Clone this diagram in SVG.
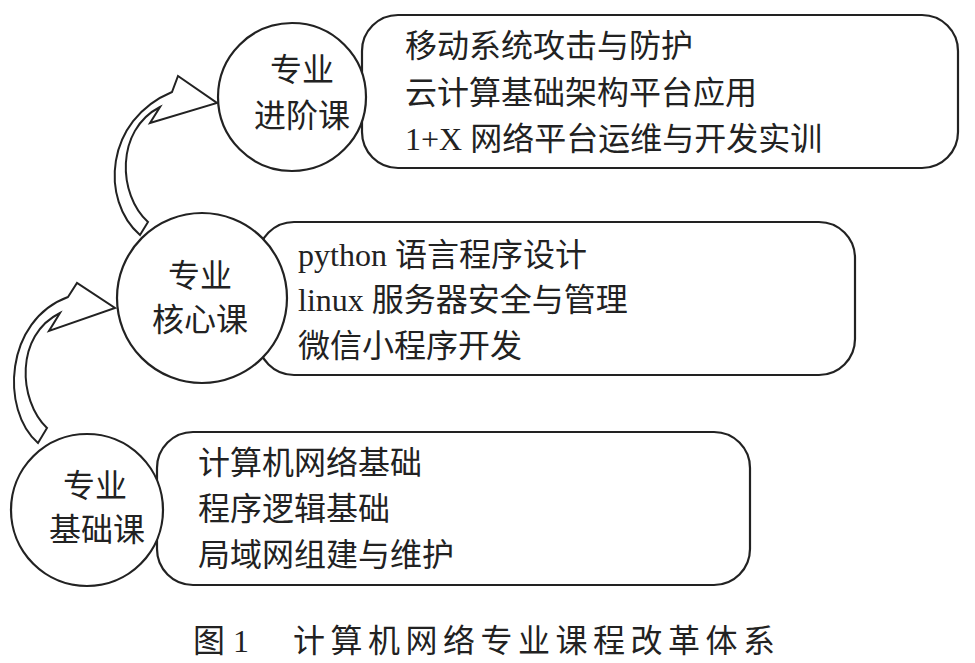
<svg xmlns="http://www.w3.org/2000/svg" width="975" height="663" viewBox="0 0 975 663">
<style>
.s{fill:#fff;stroke:#222;stroke-width:2.2}
.a{fill:#fff;stroke:#222;stroke-width:2;stroke-linejoin:miter}
text{font-family:"Liberation Serif","Noto Sans CJK SC",serif;font-size:32px;fill:#222}
.c{text-anchor:middle}
</style>
<rect width="975" height="663" fill="#fff"/>
<g id="connectors">
<path class="a" d="M140,235 C100,200 105,120 172,92 L178,76 L217,103 L150,123 L160,107 C115,130 118,195 148,222 Z"/>
<path class="a" d="M38,443 C0,410 5,320 68,297 L77,283 L115,308 L49,331 L60,313 C15,335 18,400 47,428 Z"/>
</g>
<g id="box-adv"><rect class="s" x="362" y="15" width="596" height="153" rx="36"/>
<text x="405" y="57">移动系统攻击与防护</text><text x="405" y="104">云计算基础架构平台应用</text><text x="405" y="150">1+X 网络平台运维与开发实训</text></g>
<g id="box-core"><rect class="s" x="258" y="222" width="597" height="153" rx="36"/>
<text x="298" y="266">python 语言程序设计</text><text x="298" y="311">linux 服务器安全与管理</text><text x="298" y="357">微信小程序开发</text></g>
<g id="box-base"><rect class="s" x="157" y="432" width="593" height="153" rx="36"/>
<text x="198" y="474">计算机网络基础</text><text x="198" y="520">程序逻辑基础</text><text x="198" y="566">局域网组建与维护</text></g>
<g id="node-adv"><circle class="s" cx="292" cy="97" r="74"/><text class="c" x="302" y="81">专业</text><text class="c" x="302" y="127">进阶课</text></g>
<g id="node-core"><circle class="s" cx="202" cy="298" r="85"/><text class="c" x="200" y="287">专业</text><text class="c" x="200" y="331">核心课</text></g>
<g id="node-base"><circle class="s" cx="87" cy="510" r="76"/><text class="c" x="95" y="497">专业</text><text class="c" x="97" y="541">基础课</text></g>
<text x="193" y="652">图 1</text>
<text x="293" y="652" letter-spacing="5.5">计算机网络专业课程改革体系</text>
</svg>
